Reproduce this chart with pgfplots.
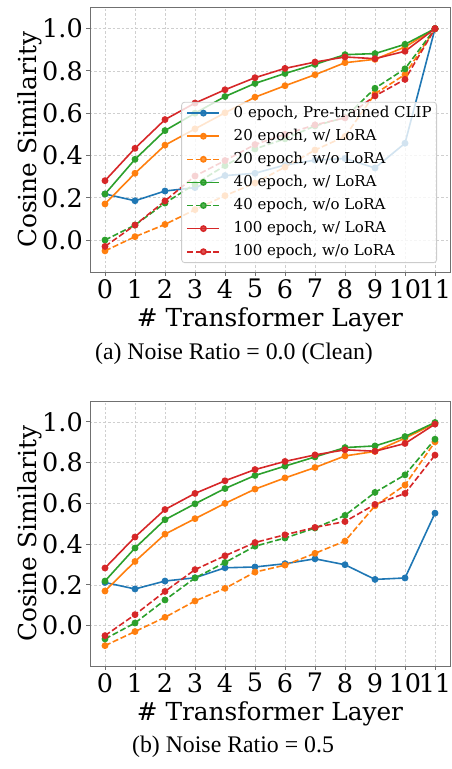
\documentclass[border=0pt]{standalone}
\usepackage{fontspec}
\setmainfont{DejaVu Serif}
\newfontfamily\capfont{Liberation Serif}
\usepackage{pgfplots}
\pgfplotsset{compat=1.18}
\definecolor{tabblue}{HTML}{1F77B4}
\definecolor{taborange}{HTML}{FF7F0E}
\definecolor{tabgreen}{HTML}{2CA02C}
\definecolor{tabred}{HTML}{D62728}
\definecolor{spine}{HTML}{707070}
\definecolor{gridgray}{HTML}{CFCFCF}
\definecolor{legframe}{HTML}{CCCCCC}

\pgfplotstableread{
x blue osol odash gsol gdash rsol rdash
0  0.218 0.171 -0.051 0.218 0.000 0.281 -0.030
1  0.186 0.316 0.016 0.382 0.071 0.434 0.071
2  0.232 0.449 0.074 0.518 0.175 0.570 0.185
3  0.248 0.526 0.144 0.600 0.265 0.648 0.303
4  0.305 0.602 0.210 0.679 0.352 0.711 0.376
5  0.316 0.676 0.270 0.741 0.431 0.768 0.452
6  0.355 0.730 0.345 0.788 0.479 0.812 0.500
7  0.378 0.782 0.426 0.831 0.540 0.842 0.545
8  0.386 0.839 0.490 0.877 0.580 0.866 0.578
9  0.341 0.855 0.692 0.882 0.718 0.858 0.682
10 0.458 0.913 0.783 0.926 0.810 0.893 0.760
11 1.000 1.000 1.000 1.000 1.000 1.000 1.000
}\clean

\pgfplotstableread{
x blue osol odash gsol gdash rsol rdash
0  0.212 0.170 -0.098 0.219 -0.065 0.283 -0.049
1  0.180 0.315 -0.029 0.381 0.013 0.435 0.054
2  0.219 0.449 0.041 0.520 0.126 0.570 0.168
3  0.235 0.525 0.121 0.598 0.234 0.649 0.275
4  0.284 0.600 0.183 0.673 0.310 0.711 0.343
5  0.288 0.670 0.263 0.737 0.390 0.766 0.408
6  0.304 0.725 0.297 0.783 0.430 0.806 0.446
7  0.328 0.776 0.355 0.828 0.479 0.838 0.482
8  0.299 0.833 0.415 0.874 0.541 0.863 0.511
9  0.227 0.855 0.588 0.882 0.654 0.856 0.595
10 0.234 0.920 0.690 0.928 0.740 0.894 0.649
11 0.552 0.993 0.902 0.997 0.915 0.989 0.837
}\noisy

\pgfplotsset{
  mystyle/.style={
    scale only axis, width=360pt, height=264.5pt,
    xmin=-0.5, xmax=11.5,
    xtick={0,1,2,3,4,5,6,7,8,9,10,11},
    ytick={0,0.2,0.4,0.6,0.8,1.0},
    grid=major,
    major grid style={color=gridgray, line width=0.6pt, dash pattern=on 2.5pt off 2pt},
    axis line style={spine, line width=0.9pt},
    tick align=outside, tick pos=left, major tick length=3.5pt,
    tick style={spine, line width=0.9pt},
    /pgf/number format/assume math mode=true,
    ticklabel style={font=\fontsize{25.5}{25.5}\selectfont, inner sep=0pt},
    yticklabel style={/pgf/number format/fixed, /pgf/number format/fixed zerofill, /pgf/number format/precision=1},
    xticklabel style={yshift=-3.5pt},
    yticklabel style={xshift=-3.5pt},
    xlabel={\# Transformer Layer},
    ylabel={Cosine Similarity},
    label style={font=\fontsize{24.8}{24.8}\selectfont},
    xlabel style={at={(axis description cs:0.5,-0.205)}, anchor=base},
    ylabel style={at={(axis description cs:-0.149,0.5)}, anchor=base},
    every axis plot/.append style={line width=1.6pt, mark=*, mark size=2.6pt, mark options={solid}},
    dsh/.style={dash pattern=on 6pt off 2.6pt},
  }
}

\begin{document}
\begin{tikzpicture}
\useasboundingbox (0,0) rectangle (451pt,-769pt);
\begin{axis}[mystyle, at={(90pt,-272pt)}, anchor=south west,
  ymin=-0.151, ymax=1.1,
  legend cell align=left,
  legend image code/.code={\draw[mark repeat=2,mark phase=2] plot coordinates {(0pt,0pt)(16pt,0pt)(32pt,0pt)};},
  legend style={at={(0.964,0.034)}, anchor=south east,
    font=\fontsize{15}{15}\selectfont,
    fill=white, fill opacity=0.8, text opacity=1, draw=legframe, line width=0.8pt,
    rounded corners=3pt, inner xsep=5pt, inner ysep=4pt,
    nodes={inner sep=0pt, text height=10.8pt, text depth=3pt},
    row sep=9.3pt,
    /tikz/every odd column/.append style={column sep=13.5pt}},
]
\addplot[tabblue] table[x=x,y=blue]{\clean};
\addlegendentry{0 epoch, Pre-trained CLIP}
\addplot[taborange] table[x=x,y=osol]{\clean};
\addlegendentry{20 epoch, w/ LoRA}
\addplot[taborange, dsh] table[x=x,y=odash]{\clean};
\addlegendentry{20 epoch, w/o LoRA}
\addplot[tabgreen] table[x=x,y=gsol]{\clean};
\addlegendentry{40 epoch, w/ LoRA}
\addplot[tabgreen, dsh] table[x=x,y=gdash]{\clean};
\addlegendentry{40 epoch, w/o LoRA}
\addplot[tabred] table[x=x,y=rsol]{\clean};
\addlegendentry{100 epoch, w/ LoRA}
\addplot[tabred, dsh] table[x=x,y=rdash]{\clean};
\addlegendentry{100 epoch, w/o LoRA}
\end{axis}
\node[font=\capfont\fontsize{23.8}{23.8}\selectfont, anchor=base] at (234pt,-359pt) {(a) Noise Ratio = 0.0 (Clean)};

\begin{axis}[mystyle, at={(90pt,-666pt)}, anchor=south west,
  ymin=-0.198, ymax=1.1]
\addplot[tabblue] table[x=x,y=blue]{\noisy};
\addplot[taborange] table[x=x,y=osol]{\noisy};
\addplot[taborange, dsh] table[x=x,y=odash]{\noisy};
\addplot[tabgreen] table[x=x,y=gsol]{\noisy};
\addplot[tabgreen, dsh] table[x=x,y=gdash]{\noisy};
\addplot[tabred] table[x=x,y=rsol]{\noisy};
\addplot[tabred, dsh] table[x=x,y=rdash]{\noisy};
\end{axis}
\node[font=\capfont\fontsize{23.8}{23.8}\selectfont, anchor=base] at (233pt,-752pt) {(b) Noise Ratio = 0.5};
\end{tikzpicture}
\end{document}
